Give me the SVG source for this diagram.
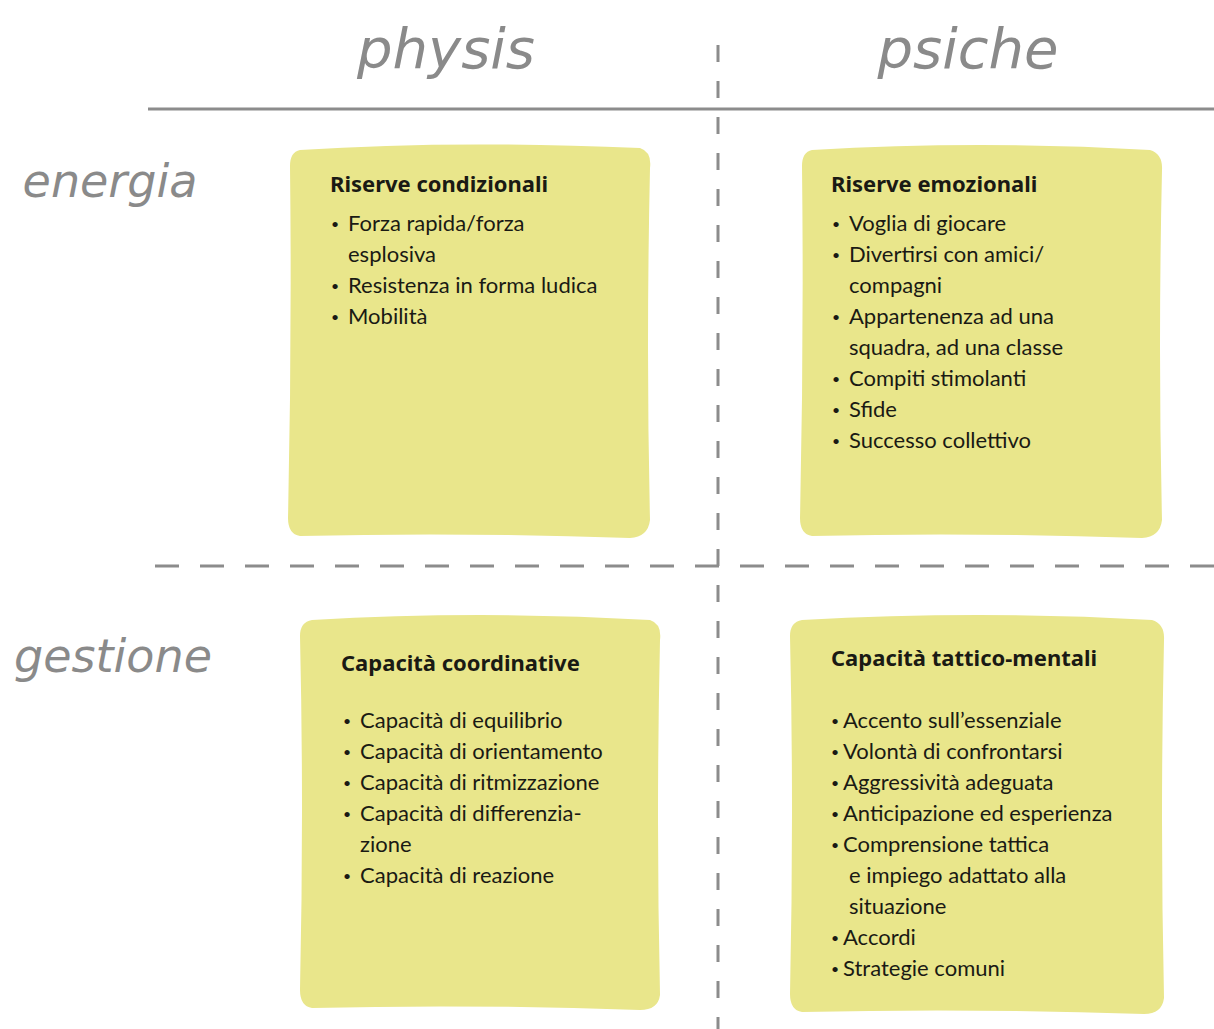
<svg xmlns="http://www.w3.org/2000/svg" width="1214" height="1029" viewBox="0 0 1214 1029">
<style>
.hand{font-family:"DejaVu Sans",sans-serif;font-style:italic;fill:#8a8a8a;}
.box{fill:#e9e68b;}
.h{font-family:"Noto Sans",Lato,sans-serif;font-weight:bold;font-size:22px;fill:#1a1a14;}
.t{font-family:Lato,"Noto Sans",sans-serif;font-size:22px;fill:#1a1a14;}
.b{font-family:Lato,"Noto Sans",sans-serif;font-size:14px;fill:#1a1a14;}
.sep{stroke:#8c8c8c;stroke-width:3;fill:none;}
</style>
<rect width="1214" height="1029" fill="#ffffff"/>
<g id="connectors">
<line class="sep" x1="148" y1="109" x2="1214" y2="109"/>
<line class="sep" x1="718" y1="45" x2="718" y2="1029" stroke-dasharray="17 19"/>
<line class="sep" x1="155" y1="566" x2="1214" y2="566" stroke-dasharray="24 21"/>
</g>
<g id="headers">
<text class="hand" x="446" y="68" font-size="56" text-anchor="middle">physis</text>
<text class="hand" x="968" y="68" font-size="56" text-anchor="middle">psiche</text>
<text class="hand" x="110" y="197" font-size="46" text-anchor="middle">energia</text>
<text class="hand" x="113" y="672" font-size="46" text-anchor="middle">gestione</text>
</g>
<g id="box-riserve-condizionali">
<path class="box" d="M300,150 Q450,140 640,148 Q652,152 650,168 Q646,350 650,520 Q648,537 630,538 Q460,532 300,536 Q288,534 288,518 Q292,340 290,166 Q290,152 300,150 Z"/>
<text class="h" x="330" y="192">Riserve condizionali</text>
<text class="b" x="331" y="229">•</text><text class="t" x="348" y="231">Forza rapida/forza</text>
<text class="t" x="348" y="262">esplosiva</text>
<text class="b" x="331" y="291">•</text><text class="t" x="348" y="293">Resistenza in forma ludica</text>
<text class="b" x="331" y="322">•</text><text class="t" x="348" y="324">Mobilità</text>
</g>
<g id="box-riserve-emozionali">
<path class="box" d="M812,150 Q980,140 1150,150 Q1163,154 1162,170 Q1158,350 1162,520 Q1160,537 1142,538 Q970,532 812,536 Q800,534 800,518 Q804,340 802,166 Q802,152 812,150 Z"/>
<text class="h" x="831" y="192">Riserve emozionali</text>
<text class="b" x="832" y="229">•</text><text class="t" x="849" y="231">Voglia di giocare</text>
<text class="b" x="832" y="260">•</text><text class="t" x="849" y="262">Divertirsi con amici/</text>
<text class="t" x="849" y="293">compagni</text>
<text class="b" x="832" y="322">•</text><text class="t" x="849" y="324">Appartenenza ad una</text>
<text class="t" x="849" y="355">squadra, ad una classe</text>
<text class="b" x="832" y="384">•</text><text class="t" x="849" y="386">Compiti stimolanti</text>
<text class="b" x="832" y="415">•</text><text class="t" x="849" y="417">Sfide</text>
<text class="b" x="832" y="446">•</text><text class="t" x="849" y="448">Successo collettivo</text>
</g>
<g id="box-capacita-coordinative">
<path class="box" d="M312,620 Q480,610 650,620 Q662,624 660,640 Q656,820 660,995 Q658,1010 640,1010 Q470,1004 312,1008 Q300,1006 300,990 Q304,810 300,636 Q300,622 312,620 Z"/>
<text class="h" x="341" y="671">Capacità coordinative</text>
<text class="b" x="343" y="726">•</text><text class="t" x="360" y="728">Capacità di equilibrio</text>
<text class="b" x="343" y="757">•</text><text class="t" x="360" y="759">Capacità di orientamento</text>
<text class="b" x="343" y="788">•</text><text class="t" x="360" y="790">Capacità di ritmizzazione</text>
<text class="b" x="343" y="819">•</text><text class="t" x="360" y="821">Capacità di differenzia-</text>
<text class="t" x="360" y="852">zione</text>
<text class="b" x="343" y="881">•</text><text class="t" x="360" y="883">Capacità di reazione</text>
</g>
<g id="box-capacita-tattico-mentali">
<path class="box" d="M802,620 Q980,610 1152,620 Q1165,624 1164,640 Q1160,820 1164,998 Q1162,1014 1144,1014 Q970,1008 802,1012 Q790,1010 790,994 Q794,810 790,636 Q790,622 802,620 Z"/>
<text class="h" x="831" y="666">Capacità tattico-mentali</text>
<text class="b" x="831" y="726">•</text><text class="t" x="843" y="728">Accento sull’essenziale</text>
<text class="b" x="831" y="757">•</text><text class="t" x="843" y="759">Volontà di confrontarsi</text>
<text class="b" x="831" y="788">•</text><text class="t" x="843" y="790">Aggressività adeguata</text>
<text class="b" x="831" y="819">•</text><text class="t" x="843" y="821">Anticipazione ed esperienza</text>
<text class="b" x="831" y="850">•</text><text class="t" x="843" y="852">Comprensione tattica</text>
<text class="t" x="849" y="883">e impiego adattato alla</text>
<text class="t" x="849" y="914">situazione</text>
<text class="b" x="831" y="943">•</text><text class="t" x="843" y="945">Accordi</text>
<text class="b" x="831" y="974">•</text><text class="t" x="843" y="976">Strategie comuni</text>
</g>
</svg>
